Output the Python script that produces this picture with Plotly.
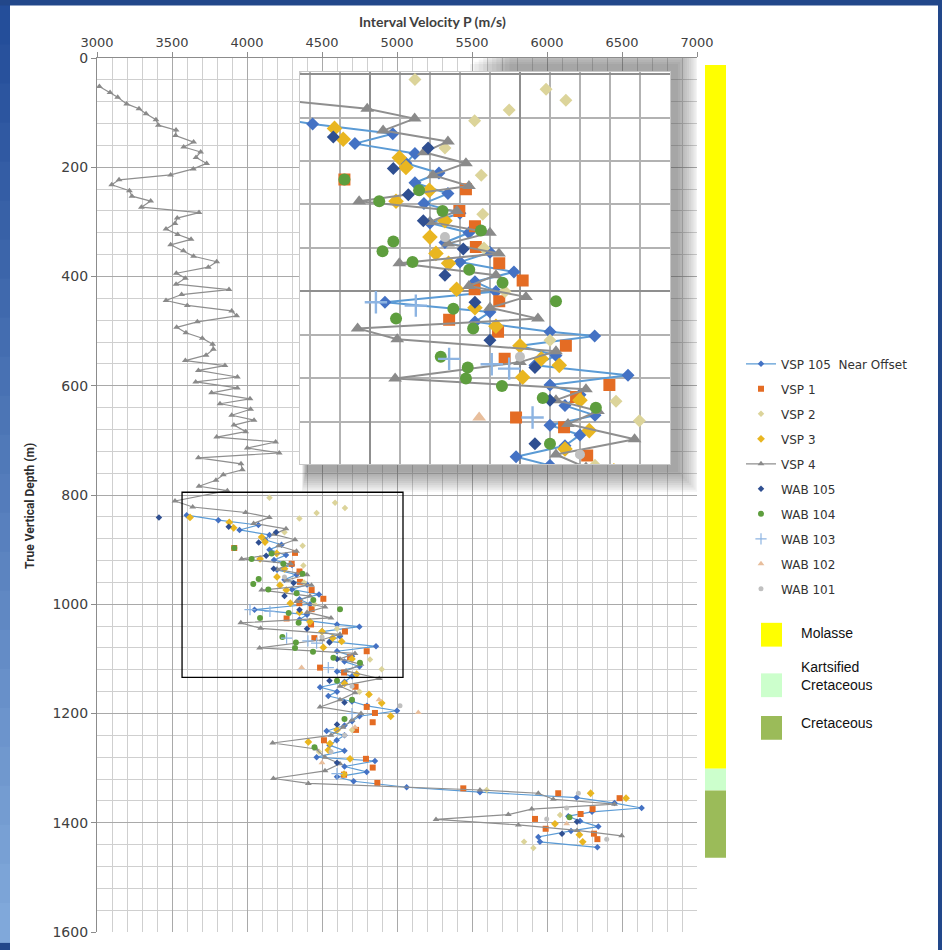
import plotly.graph_objects as go

# ---------------- interval velocity (m/s) versus true vertical depth (m) ----------------
vsp4_depth = [52, 63, 72, 84, 93, 102, 113, 123, 132, 142, 154, 163, 172, 182, 193, 203, 214, 223,
              232, 243, 253, 262, 273, 283, 293, 303, 313, 323, 332, 342, 353, 363, 373, 383, 394,
              403, 414, 424, 433, 444, 453, 463, 472, 483, 493, 503, 513, 524, 533, 544, 554, 563,
              572, 584, 593, 604, 613, 624, 633, 643, 654, 663, 672, 684, 694, 703, 714, 723, 732,
              743, 754, 763, 773, 784, 792, 811, 822, 832, 841, 852, 862, 872, 882, 893, 903, 917,
              926, 936, 946, 956, 965, 974, 985, 995, 1005, 1015, 1025, 1034, 1044, 1055, 1065,
              1080, 1090, 1100, 1110, 1122, 1136, 1150, 1162, 1175, 1188, 1200, 1212, 1225, 1240,
              1254, 1265, 1280, 1292, 1305, 1319, 1328, 1340, 1346, 1357, 1366, 1375, 1385, 1394,
              1404, 1414, 1424]
vsp4_vel = [3016, 3087, 3138, 3198, 3280, 3327, 3393, 3409, 3527, 3524, 3644, 3578, 3691, 3660, 3731,
            3642, 3491, 3147, 3098, 3216, 3233, 3358, 3296, 3680, 3535, 3520, 3460, 3538, 3627, 3491,
            3576, 3644, 3798, 3742, 3529, 3589, 3527, 3880, 3564, 3460, 3602, 3898, 3931, 3669, 3531,
            3593, 3702, 3771, 3776, 3727, 3589, 3853, 3676, 3936, 3658, 3936, 3764, 4020, 3820, 4024,
            3898, 4047, 3913, 3991, 3798, 4191, 4002, 4215, 3676, 3960, 3969, 3842, 3793, 3680, 3869,
            3520, 3638, 3991, 4149, 4044, 4260, 4180, 4320, 4210, 4330, 3964, 4290, 4200, 4400, 4260,
            4430, 4098, 4420, 4330, 4520, 4400, 4560, 3959, 4091, 4620, 4500, 4084, 4720, 4620, 4760,
            4660, 4882, 4620, 4720, 4620, 4487, 4760, 4700, 4640, 4560, 4171, 4460, 4520, 4620, 4520,
            4176, 4409, 5553, 5942, 6042, 6450, 5898, 5742, 5260, 5809, 6200, 6498]

vsp105_depth = [837, 846, 855, 864, 873, 882, 891, 900, 910, 919, 928, 937, 946, 955, 964, 973, 982,
                991, 1000, 1010, 1019, 1028, 1037, 1041, 1050, 1059, 1068, 1077, 1086, 1095, 1105,
                1114, 1123, 1132, 1142, 1152, 1160, 1168, 1178, 1186, 1195, 1205, 1214, 1222, 1232,
                1240, 1249, 1258, 1268, 1280, 1287, 1297, 1307, 1316, 1324, 1335, 1344, 1354, 1364,
                1373, 1380, 1388, 1397, 1407, 1415, 1426, 1435, 1445]
vsp105_vel = [3598, 3809, 4076, 3950, 4150, 4120, 4230, 4150, 4260, 4180, 4300, 4200, 4330, 4250,
              4400, 4300, 4480, 4350, 4420, 4050, 4400, 4350, 4600, 4749, 4500, 4620, 4550, 4860,
              4600, 4700, 4650, 4750, 4600, 4700, 4650, 4487, 4600, 4542, 4700, 4800, 5000, 4750,
              4700, 4650, 4531, 4650, 4598, 4550, 4650, 4464, 4853, 4650, 4798, 4600, 4711, 5064,
              5553, 6198, 6450, 6631, 6300, 6142, 6220, 6342, 6160, 5942, 5953, 6336]

vsp1_depth = [897, 906, 926, 940, 959, 974, 990, 998, 1009, 1026, 1037, 1050, 1062, 1086, 1097, 1116,
              1125, 1151, 1188, 1199, 1216, 1230, 1249, 1283, 1299, 1312, 1327, 1337, 1346, 1355,
              1375, 1384, 1393, 1411, 1420, 1430]
vsp1_vel = [3915, 4320, 4298, 4350, 4353, 4431, 4509, 4349, 4431, 4264, 4427, 4653, 4449, 4798, 4687,
            4487, 4647, 4724, 4798, 4853, 4838, 4727, 4513, 4793, 4838, 4647, 4869, 5442, 6075, 6484,
            6304, 6224, 5920, 5991, 6313, 6336]

vsp2_depth = [805, 814, 824, 833, 843, 868, 893, 929, 960, 1000, 1045, 1101, 1119, 1160, 1230, 1270,
              1340, 1386, 1435, 1446]
vsp2_vel = [4150, 4587, 4653, 4464, 4349, 4250, 4371, 4376, 4380, 4450, 4600, 4820, 4898, 4750, 4700,
            4480, 5598, 6087, 5847, 5909]

vsp3_depth = [841, 850, 860, 877, 886, 907, 917, 935, 950, 965, 974, 998, 1015, 1032, 1050, 1062, 1068,
              1079, 1100, 1128, 1145, 1165, 1181, 1205, 1230, 1252, 1255, 1267, 1283, 1311, 1346, 1355,
              1402, 1422, 1435]
vsp3_vel = [3620, 3882, 3911, 4098, 4120, 4198, 4087, 4250, 4200, 4220, 4262, 4289, 4350, 4420, 4500,
            4571, 4631, 4509, 4700, 4731, 4650, 4813, 4898, 4958, 4600, 4409, 4553, 4542, 4687, 4647,
            6291, 6527, 6053, 6216, 6238]

wab105_depth = [841, 858, 868, 887, 911, 935, 961, 985, 1010, 1045, 1070, 1100, 1140, 1180, 1220, 1290,
                1398, 1420]
wab105_vel = [3413, 3878, 4194, 4078, 4128, 4178, 4311, 4250, 4350, 4400, 4550, 4600, 4550, 4650, 4600,
              4600, 6200, 6100]

wab104_depth = [897, 907, 917, 926, 944, 954, 963, 973, 980, 992, 1009, 1016, 1025, 1034, 1060, 1070,
                1080, 1087, 1098, 1107, 1140, 1175, 1210, 1262, 1390]
wab104_vel = [3915, 4164, 4031, 4242, 4370, 4078, 4042, 4142, 4331, 4442, 4620, 4278, 4087, 4344, 4236,
              4326, 4320, 4440, 4576, 4753, 4600, 4700, 4650, 4450, 6150]

wab103_depth = [1010, 1013, 1062, 1067, 1071, 1116, 1200, 1310]
wab103_vel = [4020, 4153, 4264, 4406, 4464, 4542, 4700, 4600]

wab102_depth = [1116, 1175, 1198, 1225, 1290, 1402]
wab102_vel = [4364, 4880, 5142, 4720, 4500, 6131]

wab101_depth = [950, 1060, 1150, 1186, 1240, 1270, 1346, 1373, 1393, 1430]
wab101_vel = [4250, 4500, 4700, 5020, 4650, 4560, 6209, 6131, 5998, 6398]

# lithology column (depth intervals, m)
litho_names = ["Molasse", "Kartsified<br>Cretaceous", "Cretaceous"]
litho_top = [13, 1301, 1341]
litho_base = [1301, 1341, 1464]
litho_colors = ["#FFFF00", "#CCFFCC", "#9BBB59"]

x_ticks = [3000, 3500, 4000, 4500, 5000, 5500, 6000, 6500, 7000]
y_ticks = [0, 200, 400, 600, 800, 1000, 1200, 1400, 1600]

X_RANGE = [3000, 7000]
Y_RANGE = [1600, 0]
INSET_X = [3767, 5000]
INSET_Y = [1159, 798]
ZOOM_BOX_X = [3567, 5040]
ZOOM_BOX_Y = [795, 1134]

# page geometry (pixels)
W, H = 942, 950
ML, MR, MT, MB = 97, 245, 58, 10
PW, PH = W - ML - MR, H - MT - MB


def px_x(p):
    return (p - ML) / PW


def px_y(p):
    return (H - MB - p) / PH


def data_x(p):
    return X_RANGE[0] + px_x(p) * (X_RANGE[1] - X_RANGE[0])


def data_y(p):
    return (1 - px_y(p)) * Y_RANGE[0]


series = [
    dict(name="VSP 105\u00a0 Near Offset", d=vsp105_depth, v=vsp105_vel, mode="lines+markers",
         color="#4472C4", line="#5B9BD5", symbol="diamond", size=5),
    dict(name="VSP 1", d=vsp1_depth, v=vsp1_vel, mode="markers", color="#E46C24", symbol="square", size=6),
    dict(name="VSP 2", d=vsp2_depth, v=vsp2_vel, mode="markers", color="#DCD49A", symbol="diamond", size=5),
    dict(name="VSP 3", d=vsp3_depth, v=vsp3_vel, mode="markers", color="#E9B621", symbol="diamond", size=6),
    dict(name="VSP 4", d=vsp4_depth, v=vsp4_vel, mode="lines+markers", color="#8A8A8A", line="#8F8F8F",
         symbol="triangle-up", size=6),
    dict(name="WAB 105", d=wab105_depth, v=wab105_vel, mode="markers", color="#2F4F91", symbol="diamond", size=5),
    dict(name="WAB 104", d=wab104_depth, v=wab104_vel, mode="markers", color="#5E9E3E", symbol="circle", size=6),
    dict(name="WAB 103", d=wab103_depth, v=wab103_vel, mode="markers", color="#8DB4E2", symbol="cross-thin", size=8),
    dict(name="WAB 102", d=wab102_depth, v=wab102_vel, mode="markers", color="#E8BE9C", symbol="triangle-up", size=6),
    dict(name="WAB 101", d=wab101_depth, v=wab101_vel, mode="markers", color="#C0C0C0", symbol="circle", size=5),
]


def marker(s, scale):
    m = dict(symbol=s["symbol"], size=s["size"] * scale, color=s["color"])
    if s["symbol"] == "cross-thin":
        m["line"] = dict(color=s["color"], width=1.2 * scale)
    return m


fig = go.Figure()

# main chart traces
for i, s in enumerate(series):
    fig.add_trace(go.Scatter(
        x=s["v"], y=s["d"], mode=s["mode"], name=s["name"], legendgroup=f"g{i}",
        marker=marker(s, 1), line=dict(color=s.get("line", s["color"]), width=1.2),
        hoverinfo="skip", xaxis="x", yaxis="y"))

# magnified panel placement (pixels)
IN_L, IN_R, IN_T, IN_B = 300, 670, 72, 468
ix0, ix1 = px_x(IN_L), px_x(IN_R)
iy0, iy1 = px_y(IN_B), px_y(IN_T)

# soft drop shadow to the right, bottom and upper right of the magnified panel
for k in range(10):
    e = k * 2.2
    pts = [(470 + 2 * e, IN_T - 8 - e), (IN_R + 8 + e, IN_T - 8 - e), (IN_R + 8 + e, IN_B + 8 + e),
           (IN_L + 6 - 0.2 * e, IN_B + 8 + e), (IN_L + 6 - 0.2 * e, IN_B - 20), (470 + 2 * e, IN_B - 20)]
    pts.append(pts[0])
    fig.add_trace(go.Scatter(
        x=[data_x(p[0]) for p in pts], y=[data_y(p[1]) for p in pts], mode="lines", fill="toself",
        fillcolor="rgba(70,70,70,0.06)", line=dict(width=0), hoverinfo="skip",
        showlegend=False, xaxis="x", yaxis="y"))

# magnified panel traces
for i, s in enumerate(series):
    fig.add_trace(go.Scatter(
        x=s["v"], y=s["d"], mode=s["mode"], name=s["name"], legendgroup=f"g{i}", showlegend=False,
        marker=marker(s, 2.0), line=dict(color=s.get("line", s["color"]), width=2),
        hoverinfo="skip", xaxis="x2", yaxis="y2"))

shapes = []
# white page panel and blue frame
shapes.append(dict(type="rect", xref="paper", yref="paper", x0=px_x(10), x1=px_x(938),
                   y0=px_y(960), y1=px_y(5), fillcolor="white", line=dict(width=0), layer="below"))
n_band = 24
for b in range(n_band):
    t = b / (n_band - 1)
    r = int(0x24 + t * (0x80 - 0x24))
    g = int(0x4E + t * (0xA8 - 0x4E))
    bl = int(0x9A + t * (0xDA - 0x9A))
    y_top = 5 + b * (945 / n_band)
    shapes.append(dict(type="rect", xref="paper", yref="paper", x0=px_x(0), x1=px_x(10),
                       y0=px_y(y_top + 945 / n_band + 1), y1=px_y(y_top),
                       fillcolor=f"rgb({r},{g},{bl})", line=dict(width=0), layer="below"))

# zoom window outline
shapes.append(dict(type="rect", xref="x", yref="y", x0=ZOOM_BOX_X[0], x1=ZOOM_BOX_X[1],
                   y0=ZOOM_BOX_Y[0], y1=ZOOM_BOX_Y[1], line=dict(color="black", width=1.3), layer="above"))

# lithology column
for top, base, col in zip(litho_top, litho_base, litho_colors):
    shapes.append(dict(type="rect", xref="paper", yref="y", x0=px_x(705), x1=px_x(726),
                       y0=top, y1=base, fillcolor=col, line=dict(width=0), layer="above"))

annotations = [
    dict(text="<b>Interval Velocity P (m/s)</b>", xref="paper", yref="paper", x=px_x(432), y=px_y(21),
         xanchor="center", yanchor="middle", showarrow=False,
         font=dict(family="Lato", size=14, color="#404040")),
    dict(text="<b>True Vertical Depth (m)</b>", xref="paper", yref="paper", x=px_x(30), y=px_y(510),
         xanchor="center", yanchor="middle", showarrow=False, textangle=-90,
         font=dict(family="Roboto", size=12, color="#2E2E2E")),
]

# lithology key
key_y = [(628, 652), (679, 703), (722, 746)]
text_y = [638, 682, 729]
for name, col, (ya, yb), ty in zip(litho_names, litho_colors, key_y, text_y):
    shapes.append(dict(type="rect", xref="paper", yref="paper", x0=px_x(761), x1=px_x(782),
                       y0=px_y(yb), y1=px_y(ya), fillcolor=col, line=dict(width=0), layer="above"))
    annotations.append(dict(text=name, xref="paper", yref="paper", x=px_x(799), y=px_y(ty),
                            xanchor="left", yanchor="middle", align="left", showarrow=False,
                            font=dict(family="Liberation Sans", size=14, color="#111111")))

grid_major = "#A9A9A9"
grid_minor = "#CFCFCF"

fig.update_layout(
    width=W, height=H,
    margin=dict(l=ML, r=MR, t=MT, b=MB),
    paper_bgcolor="#22478A",
    plot_bgcolor="white",
    shapes=shapes,
    annotations=annotations,
    showlegend=True,
    legend=dict(x=px_x(741), y=px_y(352), xanchor="left", yanchor="top",
                bgcolor="rgba(0,0,0,0)", tracegroupgap=6, itemwidth=30,
                font=dict(family="DejaVu Sans", size=12, color="#333333")),
    xaxis=dict(domain=[0, 1], range=X_RANGE, side="top", tickvals=x_ticks,
               ticks="outside", ticklen=5, tickcolor="#8C8C8C",
               tickfont=dict(family="DejaVu Sans", size=13, color="#404040"),
               showgrid=True, gridcolor=grid_major, gridwidth=1.4,
               minor=dict(dtick=100, tick0=0, showgrid=True, gridcolor=grid_minor, gridwidth=1.2),
               showline=True, linecolor="#8C8C8C", linewidth=1.2, zeroline=False, anchor="y"),
    yaxis=dict(domain=[0, 1], range=Y_RANGE, tickvals=y_ticks,
               ticks="outside", ticklen=5, tickcolor="#8C8C8C",
               tickfont=dict(family="DejaVu Sans", size=14, color="#404040"),
               showgrid=True, gridcolor=grid_major, gridwidth=1.4,
               minor=dict(dtick=40, tick0=0, showgrid=True, gridcolor=grid_minor, gridwidth=1.2),
               showline=True, linecolor="#8C8C8C", linewidth=1.2, zeroline=False, anchor="x"),
    xaxis2=dict(domain=[ix0, ix1], range=INSET_X, anchor="y2", showticklabels=False, ticks="",
                dtick=500, tick0=0, showgrid=True, gridcolor="#8F8F8F", gridwidth=2,
                minor=dict(dtick=100, tick0=0, showgrid=True, gridcolor="#B2B2B2", gridwidth=1.8),
                showline=True, linecolor="#C8C8C8", mirror=True, zeroline=False),
    yaxis2=dict(domain=[iy0, iy1], range=INSET_Y, anchor="x2", showticklabels=False, ticks="",
                dtick=200, tick0=0, showgrid=True, gridcolor="#8F8F8F", gridwidth=2,
                minor=dict(dtick=40, tick0=0, showgrid=True, gridcolor="#B2B2B2", gridwidth=1.8),
                showline=True, linecolor="#C8C8C8", mirror=True, zeroline=False),
)

fig.write_html("out.html")
